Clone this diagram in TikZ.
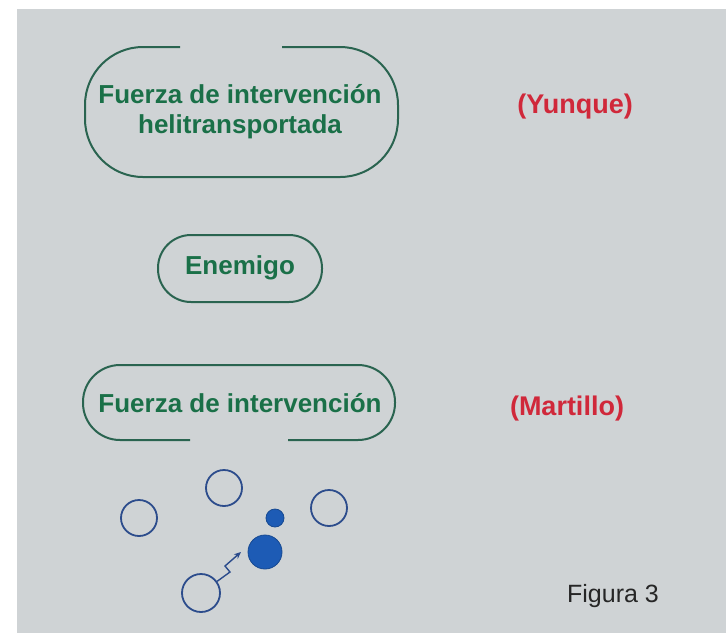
\documentclass[tikz,border=0pt]{standalone}
\usepackage{fontspec}
\setmainfont{Liberation Sans}
\usetikzlibrary{arrows.meta}
\definecolor{bggrey}{HTML}{CFD3D5}
\definecolor{tgreen}{HTML}{1A7048}
\definecolor{bgreen}{HTML}{2A6450}
\definecolor{tred}{HTML}{D0283A}
\definecolor{fblue}{HTML}{1D5BB5}
\definecolor{oblue}{HTML}{2C4C8C}
\begin{document}
\begin{tikzpicture}[x=1pt,y=-1pt,
  lbl/.style={font=\bfseries\fontsize{26}{30}\selectfont, text=tgreen, align=center, inner sep=0pt},
  rlbl/.style={font=\bfseries\fontsize{27}{30}\selectfont, text=tred, inner sep=0pt},
  boxline/.style={draw=bgreen, line width=2pt},
  opencirc/.style={circle, draw=oblue, line width=1.8pt, inner sep=0pt},
  fullcirc/.style={circle, fill=fblue, draw=fblue!80!black, line width=0.8pt, inner sep=0pt}]
\useasboundingbox (0,0) rectangle (726,633);
\fill[white] (0,0) rectangle (726,633);
\fill[bggrey] (17,9) rectangle (726,633);
% texts
\node[lbl] (helit) at (240,112) {Fuerza de intervención\\helitransportada};
\node[lbl] (enem) at (240,268) {Enemigo};
\node[lbl] (fuerza) at (240,403) {Fuerza de intervención};
\node[rlbl] (yunque) at (575,107) {(Yunque)};
\node[rlbl] (martillo) at (567,409) {(Martillo)};
\node[font=\fontsize{25}{30}\selectfont, text=black!85, inner sep=0pt] (fig) at (613,596) {Figura 3};
% boxes
\draw[boxline, rounded corners=58pt] (180,47) -- (85,47) -- (85,177) -- (398,177) -- (398,47) -- (282,47);
\draw[boxline, rounded corners=33pt] (158,235) rectangle (322,302);
\draw[boxline, rounded corners=37pt] (190,440) -- (83,440) -- (83,365) -- (395,365) -- (395,440) -- (288,440);
% circles
\node[opencirc, minimum size=36pt] (c1) at (139,518) {};
\node[opencirc, minimum size=36pt] (c2) at (224,488) {};
\node[opencirc, minimum size=36pt] (c3) at (329,508) {};
\node[fullcirc, minimum size=18pt] (small) at (275,518) {};
\node[fullcirc, minimum size=34pt] (big) at (265,552) {};
\node[opencirc, minimum size=38pt] (c4) at (201,593) {};
\coordinate (z1) at (230,572);
\coordinate (z2) at (225,566);
\coordinate (zend) at (241,552);
\draw[oblue, line width=1.4pt, -{Stealth[length=7pt,width=6pt]}] (c4) -- (z1) -- (z2) -- (zend);
\end{tikzpicture}
\end{document}
